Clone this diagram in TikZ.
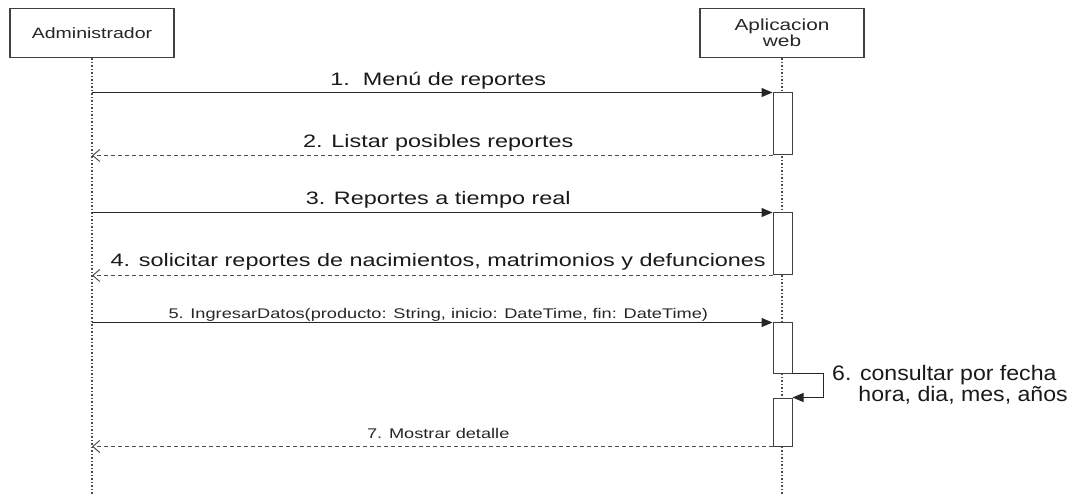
\documentclass[tikz,border=0pt]{standalone}
\usepackage{fontspec}
\setmainfont{Liberation Sans}
\newfontfamily\widefont[FakeStretch=1.3]{Liberation Sans}
\newfontfamily\notefont[FakeStretch=1.1]{Liberation Sans}
\usetikzlibrary{arrows.meta}
\tikzset{
  actor/.style={draw=black!75, line width=1.2pt, fill=white, minimum width=164pt, minimum height=49pt, align=center, text=black!85},
  life/.style={draw=black!70, line width=1.5pt, dotted},
  act/.style={draw=black!75, line width=1pt, fill=white, minimum width=19pt, inner sep=0pt},
  call/.style={draw=black!85, line width=1pt, -{Triangle[length=11pt,width=9pt]}},
  reply/.style={draw=black!70, line width=1pt, dash pattern=on 4pt off 3pt, -{Straight Barb[length=7pt,width=12pt]}},
  lbl/.style={font=\widefont\fontsize{18}{20}\selectfont, inner sep=0pt, text=black!90, anchor=base, xshift=6pt},
  slbl/.style={font=\widefont\fontsize{14}{16}\selectfont, inner sep=0pt, text=black!85, anchor=base, xshift=6pt},
}
\begin{document}
\begin{tikzpicture}[x=1pt,y=-1pt]
  \useasboundingbox (0,0) rectangle (1079,494);
  % lifelines
  \node[actor, font=\widefont\fontsize{15}{16}\selectfont] (admin) at (92,33) {Administrador};
  \node[actor, font=\widefont\fontsize{16}{16}\selectfont] (app) at (782,33) {Aplicacion\\web};
  \draw[life] (admin.south) -- (92,494);
  \draw[life] (app.south) -- (782,494);
  % activations
  \node[act, minimum height=62pt] (a1) at (782.5,124) {};
  \node[act, minimum height=62pt] (a2) at (782.5,244) {};
  \node[act, minimum height=50pt] (a3) at (782.5,348) {};
  \node[act, minimum height=48pt] (a4) at (782.5,422) {};
  \coordinate (m1) at (admin.south |- a1.north);
  \coordinate (m2) at (admin.south |- a1.south);
  \coordinate (m3) at (admin.south |- a2.north);
  \coordinate (m4) at (admin.south |- a2.south);
  \coordinate (m5) at (admin.south |- a3.north);
  \coordinate (m7) at (admin.south |- a4.south);
  % messages
  \draw[call] (m1) -- (a1.north west) node[lbl, midway, yshift=7pt] {1.\ \ Menú de reportes};
  \draw[reply] (a1.south west) -- (m2) node[lbl, midway, yshift=8pt] {2. Listar posibles reportes};
  \draw[call] (m3) -- (a2.north west) node[lbl, midway, yshift=8pt] {3. Reportes a tiempo real};
  \draw[reply] (a2.south west) -- (m4) node[lbl, midway, yshift=9pt] {4. solicitar reportes de nacimientos, matrimonios y defunciones};
  \draw[call] (m5) -- (a3.north west) node[slbl, midway, yshift=4pt] {5. IngresarDatos(producto: String, inicio: DateTime, fin: DateTime)};
  \draw[call] (a3.south east) -- ++(31,0) |- (a4.north east);
  \node[font=\notefont\fontsize{21}{21}\selectfont, text=black!90, inner sep=0pt, anchor=base west, align=left] (n6) at (832,401) {6. consultar por fecha\\\hspace*{1.25em}hora, dia, mes, años};
  \draw[reply] (a4.south west) -- (m7) node[slbl, midway, yshift=8pt] {7. Mostrar detalle};
\end{tikzpicture}
\end{document}
